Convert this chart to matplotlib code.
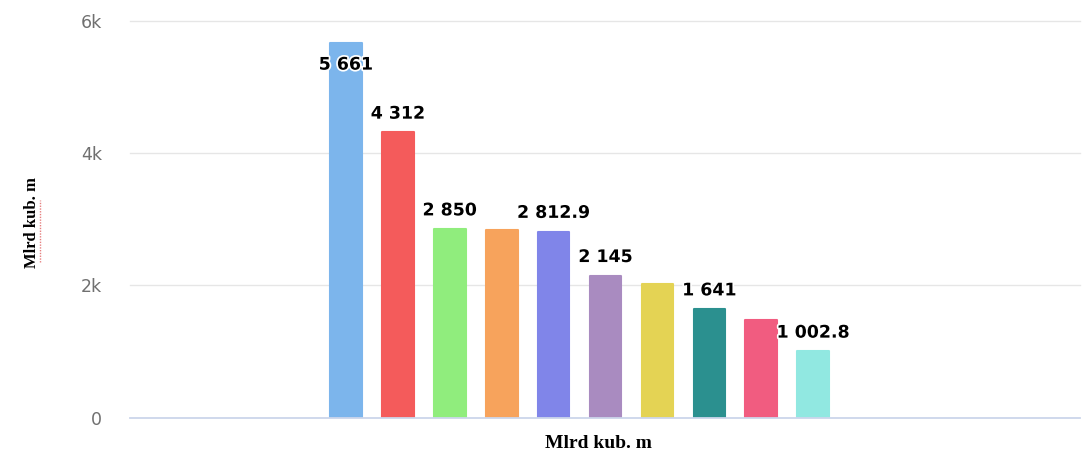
import matplotlib
matplotlib.use("Agg")
import matplotlib.pyplot as plt
import matplotlib.patheffects as pe
from matplotlib.lines import Line2D

values = [5661, 4312, 2850, 2830, 2812.9, 2145, 2020, 1641, 1470, 1002.8]
labels = ["5 661", "4 312", "2 850", None, "2 812.9", "2 145", None, "1 641", None, "1 002.8"]
colors = ["#7cb5ec", "#f45b5b", "#90ed7d", "#f7a35c", "#8085e9",
          "#a98bc0", "#e4d354", "#2b908f", "#f15c80", "#91e8e1"]
yticks = [0, 2000, 4000, 6000]
yticklabels = ["0", "2k", "4k", "6k"]
axis_title = "Mlrd kub. m"

fig = plt.figure(figsize=(10.88, 4.57), dpi=100)
ax = fig.add_axes([130/1088, 1 - 417.7/457, 950/1088, 397/457])

x = list(range(len(values)))
ax.bar(x, values, width=0.61, color=colors, edgecolor=colors,
       linewidth=1.5, joinstyle="round", zorder=3)

ax.set_ylim(0, 6000)
ax.set_xlim(-4.16, 14.14)
ax.set_yticks(yticks)
ax.set_yticklabels(yticklabels, color="#707070", fontsize=12.5, family="DejaVu Sans")
ax.set_xticks([])
for y in yticks:
    ax.axhline(y, color="#ccd6eb" if y == 0 else "#e6e6e6", lw=1.3 if y == 0 else 1,
               zorder=4 if y == 0 else 1, clip_on=False)
for s in ax.spines.values():
    s.set_visible(False)
ax.tick_params(axis="y", length=0, pad=20)

outline = [pe.withStroke(linewidth=2.5, foreground="white")]
for xi, v, lab in zip(x, values, labels):
    if lab is None:
        continue
    if v > 5400:
        ax.annotate(lab, (xi, v), xytext=(0, -9), textcoords="offset points",
                    ha="center", va="top", fontsize=12.5, fontweight="bold",
                    family="DejaVu Sans", color="black", zorder=5,
                    path_effects=outline)
    else:
        ax.annotate(lab, (xi, v), xytext=(0, 7), textcoords="offset points",
                    ha="center", va="bottom", fontsize=12.5, fontweight="bold",
                    family="DejaVu Sans", color="black", zorder=5,
                    path_effects=outline)

fig.text(32/1088, 1 - 223/457, axis_title, rotation=90, ha="center", va="center",
         fontsize=12, fontweight="bold", family="Liberation Serif", color="black")
# faint spell-check style underline next to the rotated title
fig.add_artist(Line2D([40/1088, 40/1088], [1 - 262/457, 1 - 200/457],
                      transform=fig.transFigure, color="#e06060", lw=1,
                      linestyle=(0, (1, 1)), alpha=0.8))
fig.text(598/1088, 1 - 443/457, axis_title, ha="center", va="center",
         fontsize=14, fontweight="bold", family="Liberation Serif", color="black")

fig.savefig("out.png", dpi=100, facecolor="white")
